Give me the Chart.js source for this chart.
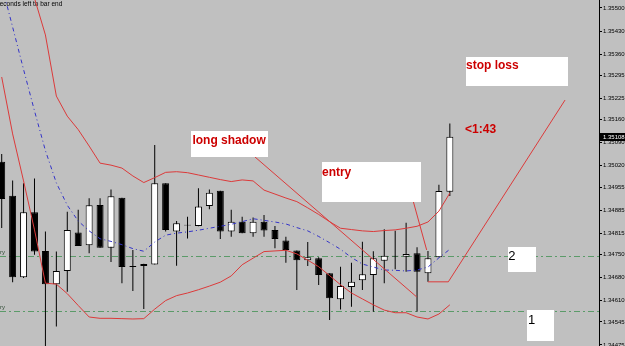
<!DOCTYPE html>
<html>
<head>
<meta charset="utf-8">
<script src="https://cdn.jsdelivr.net/npm/chart.js@4.4.1/dist/chart.umd.min.js"></script>
<style>
html, body { margin: 0; padding: 0; background: #c0c0c0; }
#wrap { width: 625px; height: 346px; }
</style>
</head>
<body>
<div id="wrap"><canvas id="chart" width="625" height="346"></canvas></div>
<script>
'use strict';

// candles, oldest first
var opens  = [1.35032, 1.34929, 1.34681, 1.34879, 1.34761, 1.34660, 1.34700, 1.34817, 1.34778, 1.34901, 1.34771, 1.34923, 1.34715, 1.34715, 1.34720, 1.34967, 1.34820, 1.34841, 1.34837, 1.34898, 1.34944, 1.34820, 1.34850, 1.34815, 1.34850, 1.34825, 1.34793, 1.34762, 1.34733, 1.34739, 1.34693, 1.34614, 1.34651, 1.34672, 1.34688, 1.34731, 1.34746, 1.34743, 1.34754, 1.34693, 1.34742, 1.34941]
var highs  = [1.35056, 1.34975, 1.34967, 1.34981, 1.34820, 1.34759, 1.34880, 1.34886, 1.34921, 1.34921, 1.34948, 1.34923, 1.34764, 1.34722, 1.35083, 1.34967, 1.34852, 1.34865, 1.34952, 1.34948, 1.34944, 1.34886, 1.34865, 1.34863, 1.34870, 1.34837, 1.34804, 1.34762, 1.34788, 1.34742, 1.34693, 1.34713, 1.34725, 1.34789, 1.34760, 1.34827, 1.34822, 1.34847, 1.34772, 1.34761, 1.34962, 1.35149]
var lows   = [1.34831, 1.34666, 1.34679, 1.34749, 1.34460, 1.34531, 1.34637, 1.34776, 1.34754, 1.34771, 1.34727, 1.34663, 1.34639, 1.34584, 1.34720, 1.34820, 1.34716, 1.34799, 1.34836, 1.34888, 1.34797, 1.34804, 1.34815, 1.34804, 1.34804, 1.34769, 1.34725, 1.34642, 1.34715, 1.34657, 1.34551, 1.34583, 1.34591, 1.34642, 1.34576, 1.34663, 1.34705, 1.34698, 1.34576, 1.34667, 1.34742, 1.34928]
var closes = [1.34919, 1.34681, 1.34879, 1.34759, 1.34660, 1.34700, 1.34825, 1.34776, 1.34900, 1.34771, 1.34927, 1.34712, 1.34712, 1.34721, 1.34967, 1.34825, 1.34845, 1.34838, 1.34896, 1.34938, 1.34820, 1.34850, 1.34815, 1.34850, 1.34823, 1.34797, 1.34764, 1.34733, 1.34742, 1.34688, 1.34617, 1.34654, 1.34667, 1.34690, 1.34739, 1.34746, 1.34744, 1.34752, 1.34698, 1.34739, 1.34943, 1.35108]

// bollinger bands + middle line
var upperBand = [1.35859, 1.35749, 1.35640, 1.35530, 1.35418, 1.35232, 1.35171, 1.35130, 1.35080, 1.35028, 1.35022, 1.35013, 1.34989, 1.34969, 1.34984, 1.35000, 1.35002, 1.34999, 1.34992, 1.34985, 1.34978, 1.34972, 1.34977, 1.34974, 1.34946, 1.34934, 1.34922, 1.34911, 1.34892, 1.34872, 1.34850, 1.34830, 1.34826, 1.34822, 1.34820, 1.34823, 1.34825, 1.34830, 1.34836, 1.34849, 1.34882, 1.34937]
var maLine    = [1.35570, 1.35442, 1.35313, 1.35187, 1.35066, 1.34968, 1.34900, 1.34852, 1.34822, 1.34798, 1.34790, 1.34780, 1.34768, 1.34760, 1.34788, 1.34809, 1.34815, 1.34819, 1.34824, 1.34830, 1.34836, 1.34842, 1.34850, 1.34859, 1.34854, 1.34849, 1.34843, 1.34832, 1.34822, 1.34805, 1.34786, 1.34766, 1.34741, 1.34721, 1.34712, 1.34703, 1.34702, 1.34700, 1.34703, 1.34712, 1.34740, 1.34766]
var lowerBand = [1.35290, 1.35117, 1.34974, 1.34825, 1.34663, 1.34660, 1.34631, 1.34595, 1.34560, 1.34556, 1.34556, 1.34555, 1.34554, 1.34555, 1.34584, 1.34610, 1.34625, 1.34633, 1.34643, 1.34654, 1.34666, 1.34685, 1.34719, 1.34739, 1.34759, 1.34761, 1.34763, 1.34752, 1.34733, 1.34713, 1.34686, 1.34658, 1.34633, 1.34615, 1.34597, 1.34581, 1.34573, 1.34573, 1.34560, 1.34554, 1.34569, 1.34597]

var tickLabels = ['1.35500', '1.35430', '1.35360', '1.35295', '1.35225', '1.35160', '1.35090', '1.35020', '1.34955', '1.34885', '1.34815', '1.34750', '1.34680', '1.34610', '1.34545', '1.34475']
var levels = [1.34747, 1.34577]
var currentPrice = '1.35108'

// text labels, in bar index / price units
var notes = [
	{text: 'long shadow', x0: 17.32, y0: 1.35126, x1: 24.39, y1: 1.35047, tx: 17.45, ty: 1.35086, red: true},
	{text: 'entry', x0: 29.30, y0: 1.35032, x1: 38.36, y1: 1.34910, tx: 29.30, ty: 1.34989, red: true},
	{text: 'stop loss', x0: 42.48, y0: 1.35351, x1: 51.81, y1: 1.35263, tx: 42.48, ty: 1.35314, red: true},
	{text: '<1:43', tx: 42.39, ty: 1.35121, red: true},
	{text: '2', x0: 46.32, y0: 1.34773, x1: 48.88, y1: 1.34697, tx: 46.35, ty: 1.34732},
	{text: '1', x0: 48.06, y0: 1.34581, x1: 50.53, y1: 1.34487, tx: 48.15, ty: 1.34539}
]
var shadowPointer = [{x: 23.17, y: 1.35047}, {x: 37.97, y: 1.34621}]
var entryPointer = [{x: 37.66, y: 1.34911}, {x: 38.88, y: 1.34764}]
var stopPointer = [{x: 39.0, y: 1.34667}, {x: 40.86, y: 1.34667}, {x: 51.54, y: 1.35220}]

var bg = '#c0c0c0'
var red = '#dc3a3a'

const series = (arr) => arr.map((v, i) => ({x: i, y: v}))

function lineSet(data, color, dash, order) {
	return {
		type: 'line', data: data, borderColor: color, borderWidth: 1, borderDash: dash || [],
		pointRadius: 0, fill: false, tension: 0, order: order
	}
}

var background = {
	id: 'background',
	beforeDraw: function(chart) {
		var ctx = chart.ctx
		ctx.save()
		ctx.fillStyle = bg
		ctx.fillRect(0, 0, chart.width, chart.height)
		ctx.restore()
	}
}

var levelLines = {
	id: 'levelLines',
	beforeDatasetsDraw: function(chart) {
		var ctx = chart.ctx, a = chart.chartArea, y = chart.scales.y
		ctx.save()
		ctx.strokeStyle = '#5b9b69'
		ctx.lineWidth = 1
		ctx.setLineDash([6, 3, 2, 3])
		levels.forEach(function(l) {
			var py = Math.round(y.getPixelForValue(l)) + 0.5
			ctx.beginPath()
			ctx.moveTo(a.left, py)
			ctx.lineTo(a.right, py)
			ctx.stroke()
		})
		ctx.setLineDash([])
		ctx.fillStyle = '#2e4a34'
		ctx.font = '6px "Liberation Sans"'
		levels.forEach(function(l) {
			ctx.fillText('ry', a.left, Math.round(y.getPixelForValue(l)) - 2)
		})
		ctx.fillStyle = '#000'
		ctx.font = '6.5px "Liberation Sans"'
		ctx.fillText('seconds left to bar end', a.left - 3.5, a.top + 5.5)
		ctx.restore()
	}
}

var noteBoxes = {
	id: 'noteBoxes',
	afterDatasetsDraw: function(chart) {
		var ctx = chart.ctx, x = chart.scales.x, y = chart.scales.y
		ctx.save()
		notes.forEach(function(n) {
			if (n.x0 !== undefined) {
				var l = Math.round(x.getPixelForValue(n.x0)), t = Math.round(y.getPixelForValue(n.y0))
				var r = Math.round(x.getPixelForValue(n.x1)), b = Math.round(y.getPixelForValue(n.y1))
				ctx.fillStyle = '#fff'
				ctx.fillRect(l, t, r - l, b - t)
			}
			ctx.fillStyle = n.red ? '#cc0000' : '#000'
			ctx.font = n.red ? 'bold 12px "Liberation Sans"' : '13px "Liberation Sans"'
			ctx.textBaseline = 'alphabetic'
			ctx.fillText(n.text, x.getPixelForValue(n.tx), y.getPixelForValue(n.ty))
		})
		ctx.restore()
	}
}

var priceTag = {
	id: 'priceTag',
	afterDraw: function(chart) {
		var ctx = chart.ctx, y = chart.scales.y
		var py = Math.round(y.getPixelForValue(closes[closes.length - 1]))
		ctx.save()
		ctx.fillStyle = '#000'
		ctx.fillRect(y.left + 1, py - 4, chart.width - y.left - 1, 8)
		ctx.fillStyle = '#fff'
		ctx.font = '6px "Liberation Sans"'
		ctx.textBaseline = 'middle'
		ctx.fillText(currentPrice, y.left + 4, py)
		ctx.restore()
	}
}

var chart = new Chart(document.getElementById('chart'), {
	type: 'bar',
	data: {
		datasets: [
			{
				data: highs.map((h, i) => ({x: i, y: [lows[i], h]})),
				backgroundColor: '#000', barThickness: 1, grouped: false, inflateAmount: 0, order: 4
			},
			{
				data: opens.map((o, i) => ({x: i, y: [o, closes[i]]})),
				backgroundColor: opens.map((o, i) => closes[i] >= o ? '#fff' : '#000'),
				borderColor: '#000', borderWidth: 1, borderSkipped: false,
				barThickness: 7, grouped: false, inflateAmount: 0, order: 3
			},
			lineSet(series(upperBand), red, null, 2),
			lineSet(series(lowerBand), red, null, 2),
			lineSet(series(maLine), '#3434c8', [4, 3, 1, 3], 1),
			lineSet(shadowPointer, red, null, 0),
			lineSet(entryPointer, red, null, 0),
			lineSet(stopPointer, red, null, 0)
		]
	},
	options: {
		responsive: false,
		animation: false,
		devicePixelRatio: 1,
		layout: {padding: 0},
		plugins: {legend: {display: false}, tooltip: {enabled: false}},
		scales: {
			x: {type: 'linear', min: -0.1555, max: 54.647, offset: false, display: false},
			y: {
				position: 'right', min: 1.344718, max: 1.355243, beginAtZero: false,
				afterFit: function(s) { s.width = 26; s.paddingTop = 0; s.paddingBottom = 0 },
				afterBuildTicks: function(s) { s.ticks = tickLabels.map((t) => ({value: parseFloat(t)})) },
				ticks: {
					autoSkip: false, color: '#000', padding: 1,
					font: {family: 'Liberation Sans', size: 6},
					callback: function(v, i) { return tickLabels[i] }
				},
				grid: {drawOnChartArea: false, drawTicks: true, tickLength: 3, color: '#000'},
				border: {display: true, color: '#000', width: 1}
			}
		}
	},
	plugins: [background, levelLines, noteBoxes, priceTag]
})
</script>
</body>
</html>
